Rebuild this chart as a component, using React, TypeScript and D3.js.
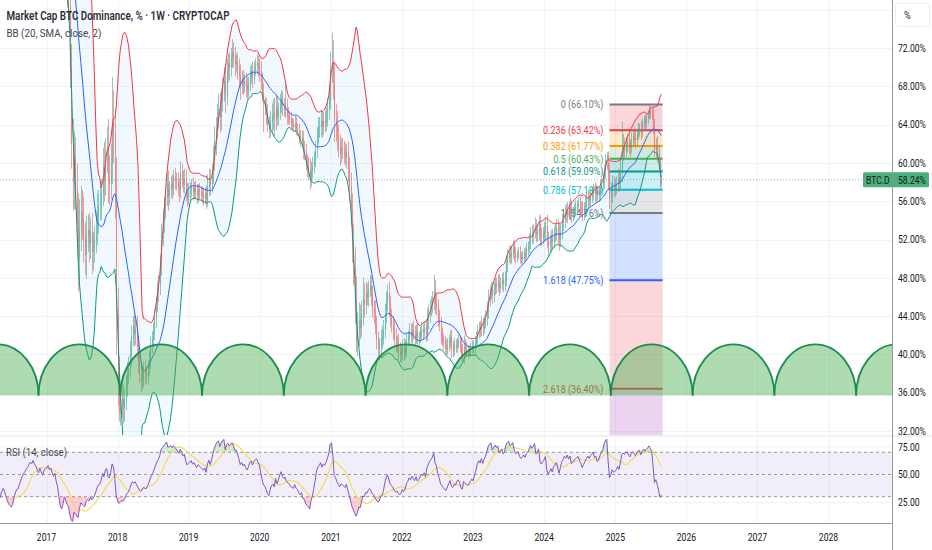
import * as d3 from 'd3';

// weekly bars, first bar opens the week of 2016-01-04; open = previous close
const firstWeek = [2016, 0, 4];

const closes = [
  // 2016
  91.0, 90.6, 90.8, 90.2, 89.6, 88.8, 87.9, 87.0, 85.8, 84.6, 83.2, 84.1, 85.0,
  85.6, 85.2, 85.9, 85.4, 85.0, 85.6, 86.2, 86.6, 86.0, 84.8, 83.4, 82.0, 81.2,
  80.6, 80.9, 81.8, 82.4, 82.9, 83.0, 83.6, 84.2, 84.8, 85.2, 85.6, 86.0, 86.3,
  86.8, 87.2, 87.0, 87.6, 87.2, 87.0, 86.6, 86.2, 86.8, 86.4, 86.0, 86.6, 86.8,
  // 2017
  86.9, 87.2, 86.8, 87.0, 86.6, 86.2, 86.5, 85.6, 84.9, 83.0, 80.2, 78.9, 79.5,
  80.4, 79.0, 77.6, 76.4, 70.0, 62.0, 58.0, 60.5, 57.5, 54.0, 50.0, 53.0, 55.0,
  54.0, 52.0, 50.5, 52.5, 53.0, 51.6, 52.8, 50.8, 51.2, 52.0, 53.2, 54.6, 55.6,
  55.8, 56.9, 59.6, 58.2, 60.8, 61.6, 58.4, 57.8, 60.0, 64.2, 63.0, 57.6, 44.2,
  // 2018
  37.6, 34.0, 34.6, 35.4, 34.4, 35.2, 36.8, 37.8, 38.6, 40.0, 41.8, 43.0, 42.2,
  42.6, 41.0, 39.4, 38.0, 37.2, 37.6, 38.4, 38.0, 37.8, 38.6, 39.4, 40.8, 41.6,
  42.4, 43.8, 45.2, 46.6, 47.4, 49.2, 52.6, 53.8, 55.2, 56.4, 57.8, 56.6, 57.2,
  57.8, 57.4, 58.6, 58.2, 58.0, 57.6, 57.2, 59.0, 58.4, 57.8, 58.4, 57.2, 56.4, 56.8,
  // 2019
  57.2, 57.6, 57.0, 57.4, 57.0, 56.6, 57.2, 57.0, 56.8, 56.6, 56.4, 56.8,
  56.2, 57.6, 58.4, 57.8, 58.8, 60.4, 62.2, 63.6, 64.8, 65.6, 64.8, 66.4, 67.6,
  68.6, 67.0, 69.6, 70.4, 70.0, 70.8, 71.6, 71.2, 70.4, 70.6, 70.0, 69.2, 68.2, 68.8,
  68.2, 68.6, 68.0, 67.6, 68.2, 69.2, 69.6, 69.0, 69.8, 70.2, 70.4, 70.0, 69.6,
  // 2020
  68.6, 67.4, 66.2, 66.0, 65.2, 64.2, 63.6, 64.4, 65.0, 65.2, 64.6, 65.8, 64.8,
  65.4, 66.2, 66.8, 66.0, 65.6, 65.8, 65.0, 64.8, 64.6, 64.2, 64.0, 63.8, 64.2,
  63.6, 63.4, 62.8, 62.4, 62.6, 61.4, 61.2, 60.2, 59.6, 59.2, 58.4, 59.2, 59.6,
  60.4, 61.4, 62.8, 63.6, 63.8, 64.4, 63.8, 64.4, 64.2, 64.8, 65.6, 66.6, 69.8,
  // 2021
  70.4, 68.6, 64.4, 63.8, 62.6, 61.8, 61.0, 61.6, 61.4, 61.0, 60.6, 61.2, 59.4,
  57.6, 55.2, 51.8, 49.2, 45.6, 41.4, 42.2, 43.6, 42.8, 44.2, 45.8, 45.2, 46.4,
  46.0, 46.8, 47.2, 46.2, 44.8, 44.4, 43.0, 41.6, 40.6, 40.8, 41.6, 41.8, 42.6,
  44.2, 45.6, 46.4, 45.2, 43.8, 43.2, 42.6, 41.6, 41.0, 41.2, 40.4, 40.0, 40.2,
  // 2022
  40.8, 40.2, 40.6, 41.4, 41.8, 42.4, 42.0, 42.6, 42.2, 41.8, 42.4, 41.6, 41.8,
  42.2, 42.6, 42.4, 42.8, 42.2, 43.6, 44.2, 44.8, 45.2, 45.6, 46.6, 45.4, 45.0,
  43.8, 43.2, 42.0, 41.6, 41.2, 40.8, 40.6, 41.0, 41.4, 41.8, 40.8, 40.6, 41.0,
  40.8, 41.2, 41.4, 41.0, 40.2, 40.0, 40.8, 40.6, 40.4, 40.2, 40.4, 40.6, 40.8,
  // 2023
  40.6, 41.2, 41.6, 42.4, 42.8, 42.6, 43.2, 42.8, 43.4, 43.8, 44.6, 45.8, 46.4,
  46.8, 46.2, 46.8, 47.4, 47.2, 47.6, 47.0, 47.4, 47.8, 47.4, 47.8, 49.4, 50.2,
  50.6, 50.2, 50.6, 51.2, 50.6, 50.2, 50.4, 50.6, 50.2, 50.0, 50.2, 50.6, 50.4,
  51.0, 51.2, 51.8, 52.6, 52.4, 52.8, 53.4, 52.6, 52.8, 53.6, 52.4, 52.2, 52.6,
  // 2024
  52.8, 53.4, 52.0, 51.4, 51.8, 52.2, 51.8, 52.6, 52.8, 53.2, 52.6, 52.0, 52.8,
  53.8, 54.2, 54.8, 54.6, 55.2, 54.8, 55.4, 54.6, 54.8, 55.2, 55.4, 55.6, 55.8,
  55.4, 55.2, 54.8, 55.2, 55.6, 56.0, 56.4, 56.2, 56.6, 56.8, 57.2, 56.8, 57.0, 56.6,
  56.8, 57.4, 57.8, 58.2, 59.4, 60.4, 60.8, 58.8, 56.4, 57.0, 57.8, 57.4, 57.6,
  // 2025
  57.8, 58.4, 58.0, 59.2, 61.2, 61.6, 61.4, 61.8, 62.2, 61.8, 61.6, 62.4, 62.8,
  62.6, 62.4, 63.0, 63.4, 63.6, 63.2, 64.0, 64.4, 64.2, 64.6, 65.0, 65.4, 65.2,
  65.0, 63.6, 61.4, 61.8, 61.0, 59.8, 57.9, 58.24,
];

const upWick = [
  // 2016
  0.6, 0.5, 0.7, 0.4, 0.5, 0.6, 0.4, 0.5, 0.7, 0.6, 0.8, 0.9, 0.6,
  0.5, 0.7, 0.6, 0.5, 0.4, 0.6, 0.5, 0.7, 0.5, 0.4, 0.6, 0.5, 0.7,
  0.8, 0.9, 0.6, 0.5, 0.4, 0.6, 0.5, 0.7, 0.6, 0.5, 0.4, 0.6, 0.5,
  0.7, 0.5, 0.6, 0.4, 0.5, 0.6, 0.5, 0.7, 0.4, 0.5, 0.6, 0.4, 0.5,
  // 2017
  0.5, 0.6, 0.5, 0.4, 0.6, 0.5, 0.6, 0.4, 0.5, 0.6, 0.8, 0.7, 1.2,
  1.0, 1.4, 1.2, 1.6, 1.8, 2.4, 2.6, 2.8, 2.2, 2.4, 2.8, 3.2, 2.6,
  2.2, 2.6, 1.8, 2.0, 1.6, 1.8, 1.4, 2.0, 1.6, 1.4, 1.8, 2.2, 1.6,
  1.8, 1.4, 2.0, 2.6, 1.8, 2.2, 3.0, 2.4, 2.0, 4.8, 3.4, 2.6, 3.0,
  // 2018
  2.8, 2.2, 1.8, 1.6, 1.4, 1.2, 1.0, 1.4, 1.2, 1.4, 1.2, 1.0, 1.2,
  1.0, 1.4, 0.8, 1.0, 0.9, 1.2, 0.8, 1.0, 0.8, 0.8, 0.9, 1.0, 0.8,
  0.9, 1.0, 0.8, 1.1, 0.9, 1.2, 1.0, 1.4, 1.2, 1.0, 1.2, 1.4, 0.9,
  0.8, 1.0, 0.7, 0.9, 0.8, 1.0, 0.8, 1.2, 0.9, 0.8, 1.0, 0.9, 0.7, 1.1,
  // 2019
  0.8, 0.7, 0.9, 0.6, 0.7, 0.8, 0.6, 0.7, 0.6, 0.7, 0.8, 0.6,
  0.8, 1.2, 1.0, 0.9, 1.1, 1.4, 1.6, 1.2, 1.4, 1.6, 1.8, 1.4, 1.2,
  1.4, 1.6, 1.2, 1.0, 1.1, 1.2, 1.3, 1.0, 0.9, 0.8, 1.0, 0.9, 1.1, 0.8,
  0.9, 0.7, 0.8, 1.0, 0.8, 0.9, 0.7, 1.0, 0.8, 0.7, 0.9, 0.8, 0.9,
  // 2020
  1.0, 0.8, 0.9, 0.7, 0.8, 0.9, 0.7, 1.0, 1.2, 1.4, 1.6, 1.3, 1.0,
  0.9, 1.0, 0.8, 0.7, 0.8, 2.6, 0.9, 0.8, 0.6, 0.7, 0.5, 0.6, 0.7,
  0.6, 0.5, 0.7, 0.6, 0.8, 0.7, 0.9, 0.8, 0.7, 1.0, 1.2, 0.9, 1.0,
  0.8, 0.9, 1.0, 1.2, 1.0, 1.2, 1.0, 0.9, 1.1, 1.0, 1.2, 1.4, 1.8,
  // 2021
  3.2, 2.4, 2.0, 1.8, 1.6, 1.4, 1.2, 1.0, 1.0, 0.9, 1.1, 0.8, 1.0,
  1.2, 1.4, 1.6, 1.8, 2.0, 2.6, 2.2, 1.8, 1.6, 1.4, 2.2, 1.6, 1.2,
  1.0, 0.9, 1.1, 1.0, 1.0, 0.9, 1.2, 1.0, 0.8, 0.9, 1.0, 1.2, 1.0,
  1.1, 1.0, 0.9, 1.2, 0.9, 1.0, 0.8, 0.9, 1.1, 0.8, 1.0, 0.9, 0.7,
  // 2022
  0.8, 0.9, 1.0, 0.8, 0.7, 0.9, 0.8, 0.7, 0.9, 0.8, 0.7, 0.9, 0.6,
  0.7, 0.8, 0.6, 0.7, 0.9, 1.2, 1.0, 0.9, 0.8, 1.0, 1.7, 1.2, 0.9,
  0.8, 0.9, 0.7, 0.8, 0.6, 0.7, 0.8, 0.7, 0.6, 0.7, 0.8, 0.6, 0.7,
  0.6, 0.5, 0.7, 0.6, 0.8, 0.9, 1.2, 0.8, 0.7, 0.6, 0.5, 0.6, 0.7,
  // 2023
  0.6, 0.7, 0.8, 0.7, 0.6, 0.7, 0.8, 0.6, 0.7, 0.8, 0.9, 1.0, 0.8,
  0.7, 0.8, 0.7, 0.6, 0.6, 0.7, 0.8, 0.6, 0.7, 0.8, 0.9, 1.0, 0.8,
  0.7, 0.8, 0.6, 0.7, 0.8, 0.6, 0.5, 0.6, 0.7, 0.5, 0.6, 0.5, 0.6,
  0.7, 0.6, 0.8, 0.7, 0.9, 0.8, 0.9, 0.7, 0.8, 0.9, 1.0, 0.8, 0.7,
  // 2024
  1.0, 0.9, 1.2, 0.8, 0.7, 0.8, 0.9, 0.7, 0.8, 0.9, 1.0, 1.1, 0.8,
  0.9, 1.0, 0.8, 0.9, 0.7, 0.8, 0.9, 0.7, 0.6, 0.6, 0.7, 0.5, 0.6,
  0.7, 0.6, 0.8, 0.7, 0.9, 1.0, 0.8, 0.7, 0.6, 0.7, 0.6, 0.8, 0.7, 0.6,
  0.7, 0.8, 0.6, 0.7, 0.4, 0.5, 0.3, 0.4, 1.2, 1.0, 0.9, 0.8, 0.7,
  // 2025
  0.8, 1.0, 0.9, 1.2, 3.1, 1.4, 1.0, 0.9, 0.8, 0.9, 0.7, 0.8, 0.6,
  0.9, 0.7, 0.6, 0.8, 0.5, 0.8, 0.6, 0.5, 0.6, 0.5, 0.4, 0.7, 0.5,
  0.6, 0.9, 1.0, 0.8, 1.0, 0.9, 0.8, 0.4,
];

const downWick = [
  // 2016
  0.5, 0.7, 0.4, 0.6, 0.6, 0.5, 0.8, 0.7, 0.9, 1.1, 1.0, 0.6, 0.5,
  0.6, 0.7, 0.5, 0.6, 0.5, 0.4, 0.6, 0.5, 0.7, 0.8, 0.9, 1.0, 0.8,
  0.9, 0.6, 0.5, 0.4, 0.5, 0.6, 0.4, 0.5, 0.6, 0.5, 0.4, 0.6, 0.5,
  0.4, 0.5, 0.6, 0.4, 0.5, 0.6, 0.7, 0.5, 0.4, 0.6, 0.5, 0.4, 0.5,
  // 2017
  0.5, 0.4, 0.6, 0.5, 0.4, 0.6, 0.5, 0.7, 0.8, 1.0, 1.2, 0.9, 0.8,
  0.8, 1.2, 1.4, 1.6, 2.2, 2.6, 3.0, 2.8, 2.4, 2.6, 3.4, 2.8, 2.2,
  2.0, 2.4, 2.2, 2.6, 1.8, 2.0, 1.6, 2.4, 2.0, 1.6, 1.4, 1.8, 2.0,
  1.6, 1.8, 1.4, 2.2, 1.6, 1.8, 2.6, 2.2, 1.6, 2.2, 3.0, 3.4, 4.2,
  // 2018
  3.0, 1.0, 1.4, 1.2, 1.6, 1.4, 1.0, 1.2, 0.9, 1.0, 1.2, 0.9, 1.4,
  1.2, 1.4, 1.3, 1.0, 1.1, 0.9, 1.0, 1.2, 0.8, 1.0, 0.8, 0.9, 0.7,
  0.8, 0.9, 1.0, 0.8, 1.1, 1.2, 1.0, 1.3, 1.1, 1.0, 0.9, 1.6, 1.0,
  0.9, 1.2, 0.8, 1.0, 0.9, 1.1, 1.3, 0.9, 1.0, 0.9, 1.0, 1.2, 1.0, 0.8,
  // 2019
  0.7, 0.8, 0.9, 0.7, 0.8, 0.9, 0.7, 0.8, 0.7, 0.8, 0.9, 0.6,
  1.0, 0.8, 1.1, 1.2, 0.9, 1.0, 1.2, 1.4, 1.1, 1.2, 1.6, 1.4, 1.0,
  1.2, 1.8, 1.0, 1.2, 1.4, 1.0, 0.9, 1.2, 1.4, 1.0, 1.3, 1.4, 1.6, 1.0,
  1.1, 0.9, 1.2, 1.0, 0.8, 0.7, 0.9, 1.2, 0.8, 0.7, 0.9, 1.0, 1.1,
  // 2020
  0.9, 1.0, 3.0, 1.0, 1.2, 1.0, 1.1, 0.9, 1.4, 1.6, 1.8, 1.2, 1.0,
  0.8, 0.9, 1.0, 1.1, 0.8, 0.9, 1.0, 0.8, 0.6, 0.7, 0.6, 0.5, 0.6,
  0.7, 0.6, 0.8, 0.7, 0.8, 1.0, 0.9, 1.0, 1.1, 1.0, 1.2, 0.9, 0.8,
  0.7, 0.8, 0.9, 0.8, 1.0, 1.1, 1.2, 0.9, 1.0, 0.9, 1.0, 1.1, 1.0,
  // 2021
  1.4, 2.0, 2.2, 1.6, 1.4, 1.2, 1.3, 1.0, 1.0, 1.1, 0.9, 1.2, 1.4,
  1.6, 1.8, 2.2, 2.0, 2.4, 1.2, 1.6, 1.4, 1.2, 1.0, 1.2, 1.4, 1.0,
  0.9, 1.0, 0.8, 1.1, 1.0, 1.2, 0.9, 1.1, 1.0, 1.2, 0.9, 1.0, 0.8,
  0.9, 1.0, 1.1, 1.2, 1.0, 0.9, 1.1, 1.0, 0.8, 0.9, 1.0, 0.8, 0.9,
  // 2022
  0.8, 0.9, 0.7, 0.8, 0.6, 0.7, 0.8, 0.9, 0.7, 0.8, 0.7, 0.6, 0.8,
  0.6, 0.7, 0.8, 0.6, 0.9, 0.8, 1.0, 0.9, 0.8, 0.9, 1.0, 1.2, 0.9,
  0.9, 0.8, 1.0, 0.7, 0.7, 0.6, 0.8, 0.6, 0.7, 0.8, 1.2, 0.9, 0.7,
  0.6, 0.7, 0.6, 0.8, 0.7, 0.8, 1.0, 0.9, 0.7, 0.6, 0.5, 0.6, 0.5,
  // 2023
  0.6, 0.7, 0.6, 0.8, 0.7, 0.8, 0.7, 0.9, 0.6, 0.7, 0.8, 0.9, 0.8,
  0.7, 0.9, 0.8, 0.6, 0.8, 0.7, 0.9, 0.6, 0.7, 0.9, 0.8, 0.7, 0.8,
  0.6, 0.8, 0.7, 0.6, 0.9, 0.7, 0.6, 0.5, 0.7, 0.6, 0.5, 0.7, 0.6,
  0.6, 0.7, 0.6, 0.8, 0.9, 0.8, 0.7, 0.9, 0.8, 0.9, 1.1, 0.8, 0.7,
  // 2024
  0.8, 1.0, 0.9, 1.1, 0.8, 0.9, 0.8, 0.7, 0.8, 0.9, 1.1, 1.2, 0.8,
  0.8, 0.9, 1.0, 0.8, 0.9, 0.7, 0.8, 0.9, 0.7, 0.6, 0.5, 0.6, 0.7,
  0.8, 0.7, 0.9, 0.8, 0.7, 1.2, 0.8, 0.9, 0.7, 0.8, 0.7, 0.9, 0.8, 0.7,
  0.7, 0.8, 0.6, 0.7, 0.9, 1.0, 1.1, 1.6, 1.2, 1.64, 1.2, 1.0, 0.9,
  // 2025
  0.9, 0.8, 1.0, 0.7, 1.2, 1.0, 0.9, 0.8, 0.7, 0.9, 1.0, 0.6, 0.7,
  0.8, 0.9, 0.7, 0.6, 0.7, 0.8, 0.5, 0.6, 0.8, 0.6, 0.5, 0.4, 0.6,
  0.5, 0.6, 0.8, 1.0, 0.9, 0.8, 0.6, 0.4,
];

const priceTicks = [32, 36, 40, 44, 48, 52, 56, 60, 64, 68, 72];
const gridPrices = [32, 36, 40, 44, 48, 52, 56, 60, 64, 68, 72, 76];
const yearTicks = [2017, 2018, 2019, 2020, 2021, 2022, 2023, 2024, 2025, 2026, 2027, 2028];
const rsiTicks = [75, 50, 25];
const rsiBands = [70, 50, 30];

const fibRatios = [0, 0.236, 0.382, 0.5, 0.618, 0.786, 1, 1.618, 2.618, 3.618];
const fibPrices = [66.1, 63.42, 61.77, 60.43, 59.09, 57.19, 54.76, 47.75, 36.4, 25.07];
const fibColors = ['#787b86', '#f23645', '#ff9800', '#4caf50', '#089981', '#00bcd4', '#787b86', '#2962ff', '#f23645', '#9c27b0'];
const fibSpan = ['2024-12-02', '2025-09-01'];

const cycleAnchor = '2024-12-09';
const cycleWeeks = 60;
const cycleBase = 35.7;
const cycleTop = 41.05;

const symbol = 'BTC.D';
const lastPrice = 58.24;

const W = 932;
const H = 550;
const PR = 892; // right edge of the panes
const MAIN_B = 435;
const RSI_T = 437;
const RSI_B = 522;
const AXIS_Y = 523;
const FONT = 'Roboto, "Noto Sans", sans-serif';

const parse = d3.timeParse('%Y-%m-%d');
const x = d3.scaleTime().domain([new Date(2017, 0, 1), new Date(2028, 0, 1)]).range([46.5, 828.5]);
const y = d3.scaleLinear().domain([32, 72]).range([431, 48]);
const yRsi = d3.scaleLinear().domain([30, 70]).range([496.7, 452.3]);

type Bar = { date: Date; open: number; high: number; low: number; close: number };

const n = Math.min(closes.length, upWick.length, downWick.length);
const bars: Bar[] = d3.range(n).map((i) => {
  const close = closes[i];
  const open = i ? closes[i - 1] : close;
  return {
    date: new Date(firstWeek[0], firstWeek[1], firstWeek[2] + 7 * i),
    open,
    close,
    high: Math.max(open, close) + upWick[i],
    low: Math.min(open, close) - downWick[i],
  };
});

// Bollinger bands (20, 2)
const bb = bars.slice(19).map((b, k) => {
  const win = closes.slice(k, k + 20);
  const m = d3.mean(win) as number;
  const sd = Math.sqrt(d3.mean(win, (v) => (v - m) ** 2) as number);
  return { date: b.date, basis: m, upper: m + 2 * sd, lower: m - 2 * sd };
});

// RSI 14 (Wilder) and its 14 SMA
const rsi: { date: Date; v: number }[] = [];
{
  let au = 0;
  let ad = 0;
  for (let i = 1; i < n; i++) {
    const ch = closes[i] - closes[i - 1];
    const u = Math.max(ch, 0);
    const d = Math.max(-ch, 0);
    if (i <= 14) {
      au += u / 14;
      ad += d / 14;
      if (i < 14) continue;
    } else {
      au = (au * 13 + u) / 14;
      ad = (ad * 13 + d) / 14;
    }
    rsi.push({ date: bars[i].date, v: ad === 0 ? 100 : 100 - 100 / (1 + au / ad) });
  }
}
const rsiMa = rsi.slice(13).map((r, k) => ({ date: r.date, v: d3.mean(rsi.slice(k, k + 14), (d) => d.v) as number }));

const lineOf = (key: 'basis' | 'upper' | 'lower') =>
  d3.line<(typeof bb)[number]>().x((d) => x(d.date)).y((d) => y(d[key]))(bb) ?? '';
const bbFill =
  d3.area<(typeof bb)[number]>().x((d) => x(d.date)).y0((d) => y(d.lower)).y1((d) => y(d.upper))(bb) ?? '';
const rsiLine = d3.line<{ date: Date; v: number }>().x((d) => x(d.date)).y((d) => yRsi(d.v));
const rsiArea = (lvl: number) =>
  d3.area<{ date: Date; v: number }>().x((d) => x(d.date)).y0(yRsi(lvl)).y1((d) => yRsi(d.v))(rsi) ?? '';

// time cycle semi-ellipses
const anchor = parse(cycleAnchor) as Date;
const cycles = d3
  .range(-9, 6)
  .map((k) => [d3.timeWeek.offset(anchor, k * cycleWeeks), d3.timeWeek.offset(anchor, (k + 1) * cycleWeeks)])
  .map(([a, b]) => ({ x0: x(a), x1: x(b) }))
  .filter((c) => c.x1 > -5 && c.x0 < PR + 5);
const cyBase = y(cycleBase);
const cyR = cyBase - y(cycleTop);

const fx0 = x(parse(fibSpan[0]) as Date);
const fx1 = x(parse(fibSpan[1]) as Date);

function T({
  x: tx,
  y: ty,
  s = 10,
  sx = 0.86,
  anchor: an = 'start',
  fill = '#131722',
  children,
}: {
  x: number;
  y: number;
  s?: number;
  sx?: number;
  anchor?: 'start' | 'middle' | 'end';
  fill?: string;
  children: React.ReactNode;
}) {
  return (
    <text
      transform={`translate(${tx},${ty}) scale(${sx},1)`}
      fontSize={s}
      textAnchor={an}
      dominantBaseline="central"
      fill={fill}
    >
      {children}
    </text>
  );
}

export default function App() {
  const upCol = '#3aa88f';
  const downCol = '#ef5a5a';
  const lastY = y(lastPrice);
  const labelGreen = '#4caf7d';

  return (
    <div style={{ position: 'absolute', left: 0, top: 0, width: W, height: H, background: '#fff' }}>
      <svg width={W} height={H} viewBox={`0 0 ${W} ${H}`} style={{ display: 'block', fontFamily: FONT }}>
        <defs>
          <clipPath id="main">
            <rect x={0} y={0} width={PR} height={MAIN_B} />
          </clipPath>
          <clipPath id="rsi">
            <rect x={0} y={RSI_T} width={PR} height={RSI_B - RSI_T} />
          </clipPath>
          <clipPath id="ob">
            <rect x={0} y={RSI_T} width={PR} height={yRsi(70) - RSI_T} />
          </clipPath>
          <clipPath id="os">
            <rect x={0} y={yRsi(30)} width={PR} height={RSI_B - yRsi(30)} />
          </clipPath>
        </defs>
        <rect width={W} height={H} fill="#fff" />

        {/* grid */}
        {yearTicks.map((yr) => {
          const gx = Math.round(x(new Date(yr, 0, 1))) + 0.5;
          return (
            <g key={yr}>
              <line x1={gx} x2={gx} y1={0} y2={MAIN_B} stroke="#f0f3fa" />
              <line x1={gx} x2={gx} y1={RSI_T} y2={AXIS_Y} stroke="#f0f3fa" />
            </g>
          );
        })}
        {gridPrices.map((p) => (
          <line key={p} x1={0} x2={PR} y1={Math.round(y(p)) + 0.5} y2={Math.round(y(p)) + 0.5} stroke="#f0f3fa" />
        ))}

        <g clipPath="url(#main)">
          {/* fibonacci retracement */}
          {fibPrices.slice(0, -1).map((p, i) => (
            <rect
              key={`fb${i}`}
              x={fx0}
              width={fx1 - fx0}
              y={y(p)}
              height={y(fibPrices[i + 1]) - y(p)}
              fill={fibColors[i + 1]}
              opacity={0.2}
            />
          ))}
          {fibPrices.map((p, i) => (
            <g key={`fl${i}`}>
              <line x1={fx0} x2={fx1} y1={y(p)} y2={y(p)} stroke={fibColors[i]} strokeWidth={2} />
              <T x={fx0 - 6} y={y(p)} anchor="end" fill={fibColors[i]} s={10.5}>
                {`${fibRatios[i]} (${p.toFixed(2)}%)`}
              </T>
            </g>
          ))}

          {/* bollinger fill */}
          <path d={bbFill} fill="rgba(33,150,243,0.06)" />

          {/* candles */}
          {bars.map((b, i) => {
            const cx = Math.round(x(b.date)) + 0.5;
            const col = b.close >= b.open ? upCol : downCol;
            return (
              <g key={i} opacity={0.72}>
                <line x1={cx} x2={cx} y1={y(b.high)} y2={y(b.low)} stroke={col} strokeWidth={0.8} />
                <line
                  x1={cx}
                  x2={cx}
                  y1={y(Math.max(b.open, b.close))}
                  y2={y(Math.min(b.open, b.close)) + 0.6}
                  stroke={col}
                  strokeWidth={1.1}
                />
              </g>
            );
          })}

          {/* bollinger lines */}
          <path d={lineOf('upper')} fill="none" stroke="#f23645" strokeWidth={1} />
          <path d={lineOf('lower')} fill="none" stroke="#089981" strokeWidth={1} />
          <path d={lineOf('basis')} fill="none" stroke="#2962ff" strokeWidth={1} />

          {/* last price line */}
          <line x1={0} x2={PR} y1={lastY} y2={lastY} stroke={labelGreen} strokeDasharray="1 2" opacity={0.7} />

          {/* time cycles */}
          {cycles.map((c, i) => {
            const rx = (c.x1 - c.x0) / 2;
            const arc = `M${c.x0},${cyBase} A${rx},${cyR} 0 0 1 ${c.x1},${cyBase}`;
            return (
              <g key={`cy${i}`}>
                <path d={`${arc} Z`} fill="rgba(76,175,80,0.45)" />
                <path d={arc} fill="none" stroke="#1e8c52" strokeWidth={1.8} />
              </g>
            );
          })}
        </g>

        {/* pane separator */}
        <line x1={0} x2={W} y1={MAIN_B + 1} y2={MAIN_B + 1} stroke="#e0e3eb" />

        {/* RSI pane */}
        <g clipPath="url(#rsi)">
          <rect x={0} y={yRsi(70)} width={PR} height={yRsi(30) - yRsi(70)} fill="rgba(126,87,194,0.1)" />
          {[25, 75].map((v) => (
            <line key={v} x1={0} x2={PR} y1={yRsi(v)} y2={yRsi(v)} stroke="#f0f3fa" />
          ))}
          {rsiBands.map((v) => (
            <line key={v} x1={0} x2={PR} y1={yRsi(v)} y2={yRsi(v)} stroke="#9598a1" strokeDasharray="3 3" />
          ))}
          <path d={rsiArea(70)} fill="rgba(76,175,80,0.25)" clipPath="url(#ob)" />
          <path d={rsiArea(30)} fill="rgba(242,54,69,0.25)" clipPath="url(#os)" />
          <path d={rsiLine(rsiMa) ?? ''} fill="none" stroke="#f5d94a" strokeWidth={1.1} />
          <path d={rsiLine(rsi) ?? ''} fill="none" stroke="#7e57c2" strokeWidth={1} />
        </g>

        {/* axes */}
        <line x1={0} x2={PR + 0.5} y1={AXIS_Y + 0.5} y2={AXIS_Y + 0.5} stroke="#9598a1" />
        <line x1={PR + 0.5} x2={PR + 0.5} y1={0} y2={H} stroke="#9598a1" />
        {priceTicks.map((p) => (
          <T key={p} x={898} y={y(p)}>
            {`${p.toFixed(2)}%`}
          </T>
        ))}
        {rsiTicks.map((v) => (
          <T key={v} x={898} y={yRsi(v)}>
            {v.toFixed(2)}
          </T>
        ))}
        {yearTicks.map((yr) => (
          <T key={yr} x={x(new Date(yr, 0, 1))} y={537} anchor="middle">
            {yr}
          </T>
        ))}
        <rect x={895.5} y={3.5} width={34} height={23} rx={3} fill="#fff" stroke="#eceef2" />
        <T x={904} y={15} s={10.5}>
          %
        </T>

        {/* last price label */}
        <rect x={863} y={lastY - 7.5} width={66} height={15} rx={1.5} fill={labelGreen} />
        <line x1={PR + 0.5} x2={PR + 0.5} y1={lastY - 7.5} y2={lastY + 7.5} stroke="#9598a1" opacity={0.6} />
        <T x={866} y={lastY}>
          {symbol}
        </T>
        <T x={898} y={lastY}>
          {`${lastPrice.toFixed(2)}%`}
        </T>

        {/* legends */}
        <text x={6.5} y={20} fontSize={12} fontWeight={600} fill="#2a2e39" textLength={223} lengthAdjust="spacingAndGlyphs">
          Market Cap BTC Dominance, % · 1W · CRYPTOCAP
        </text>
        <text x={6.5} y={36.5} fontSize={11.5} fill="#434651" textLength={95} lengthAdjust="spacingAndGlyphs">
          BB (20, SMA, close, 2)
        </text>
        <text x={6} y={456} fontSize={11.5} fill="#434651" textLength={61} lengthAdjust="spacingAndGlyphs">
          RSI (14, close)
        </text>
      </svg>
    </div>
  );
}
